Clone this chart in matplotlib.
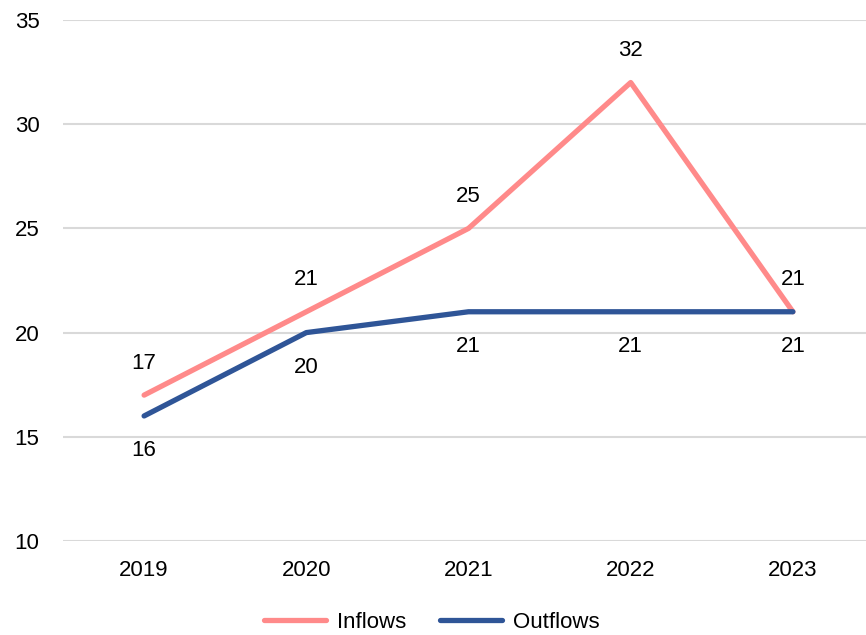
import matplotlib.pyplot as plt

plt.rcParams['font.family'] = ['Liberation Sans', 'DejaVu Sans']

years = ['2019', '2020', '2021', '2022', '2023']
inflows = [17, 21, 25, 32, 21]
outflows = [16, 20, 21, 21, 21]

pink = '#FF8A8A'
navy = '#2F5597'

fig = plt.figure(figsize=(8.66, 6.35), dpi=100)
ax = fig.add_axes([63/866, 1 - 541/635, 811/866, 521/635])

x = range(len(years))
ax.plot(x, inflows, color=pink, lw=3.8, label='Inflows', solid_capstyle='round')
ax.plot(x, outflows, color=navy, lw=3.8, label='Outflows', solid_capstyle='round')

# data labels: inflows above, outflows below
for i, v in enumerate(inflows):
    ax.annotate(str(v), (i, v), xytext=(0, 23), textcoords='offset points',
                ha='center', va='center', fontsize=16)
for i, v in enumerate(outflows):
    ax.annotate(str(v), (i, v), xytext=(0, -25), textcoords='offset points',
                ha='center', va='center', fontsize=16)

ax.set_xlim(-0.5, 4.5)
ax.set_ylim(10, 35)
ax.set_yticks([10, 15, 20, 25, 30, 35])
ax.set_xticks(list(x))
ax.set_xticklabels(years)
ax.yaxis.grid(True, color='#D9D9D9', lw=1.5)
ax.set_axisbelow(True)
for s in ax.spines.values():
    s.set_visible(False)
ax.tick_params(axis='both', length=0, labelsize=16)
ax.tick_params(axis='y', pad=17)
ax.tick_params(axis='x', pad=14)

fig.legend(loc='center', bbox_to_anchor=(432/866, 1 - 622/635), ncol=2,
           frameon=False, fontsize=16, handlelength=2.8, columnspacing=1.5,
           handletextpad=0.5)

fig.savefig('out.png', dpi=100)
